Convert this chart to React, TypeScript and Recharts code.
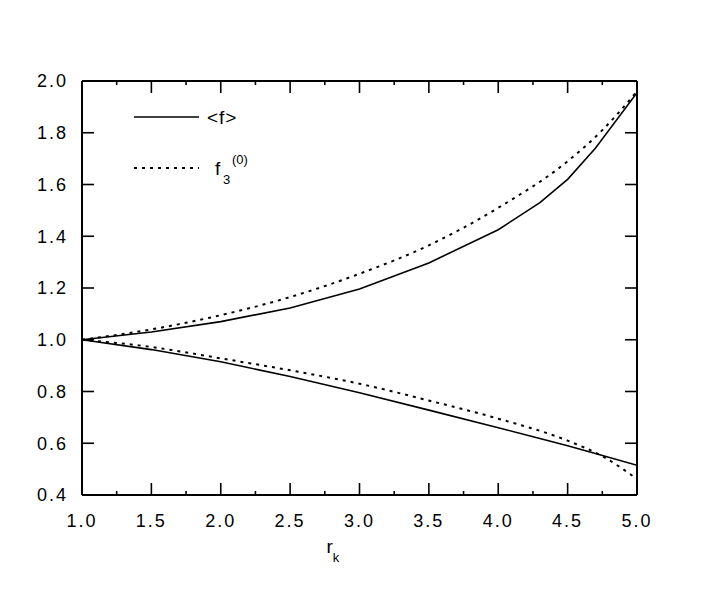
import { LineChart, Line, XAxis, YAxis, Legend } from "recharts";

// solid curves <f>
const rSolid = [1.0, 1.5, 2.0, 2.5, 3.0, 3.5, 4.0, 4.3, 4.5, 4.7, 5.0];
const fUpper = [1.0, 1.03, 1.07, 1.123, 1.196, 1.297, 1.425, 1.53, 1.62, 1.74, 1.955];
const fLower = [1.0, 0.962, 0.915, 0.858, 0.795, 0.728, 0.66, 0.618, 0.59, 0.56, 0.515];

// dotted curves f3(0)
const rDotted = [1.0, 1.5, 2.0, 2.5, 3.0, 3.5, 4.0, 4.5, 4.75, 5.0];
const f3Upper = [1.0, 1.04, 1.095, 1.165, 1.255, 1.365, 1.51, 1.69, 1.81, 1.96];
const f3Lower = [1.0, 0.972, 0.928, 0.882, 0.83, 0.765, 0.695, 0.61, 0.55, 0.462];

const xTicks = [1.0, 1.25, 1.5, 1.75, 2.0, 2.25, 2.5, 2.75, 3.0, 3.25, 3.5, 3.75, 4.0, 4.25, 4.5, 4.75, 5.0];
const yTicks = [0.4, 0.6, 0.8, 1.0, 1.2, 1.4, 1.6, 1.8, 2.0];

const FONT = '"Liberation Sans", Arial, Helvetica, sans-serif';

const toPoints = (xs: number[], ys: number[]) => xs.map((x, i) => ({ x, y: ys[i] }));

const isMajor = (v: number) => Math.abs(v * 2 - Math.round(v * 2)) < 1e-6;

const BottomTick = (props: any) => {
  const { x, y, payload } = props;
  const major = isMajor(payload.value);
  return (
    <g>
      <line x1={x} x2={x} y1={y} y2={y - (major ? 12 : 4)} stroke="#000" strokeWidth={1.6} />
      {major && (
        <text x={x} y={y + 32} textAnchor="middle" fontSize={18} letterSpacing={2} fontFamily={FONT} fill="#000">
          {payload.value.toFixed(1)}
        </text>
      )}
    </g>
  );
};

const TopTick = (props: any) => {
  const { x, y, payload } = props;
  const major = isMajor(payload.value);
  return <line x1={x} x2={x} y1={y} y2={y + (major ? 12 : 4)} stroke="#000" strokeWidth={1.6} />;
};

const LeftTick = (props: any) => {
  const { x, y, payload } = props;
  return (
    <g>
      <line x1={x} x2={x + 12} y1={y} y2={y} stroke="#000" strokeWidth={1.6} />
      <text x={x - 14} y={y} dy="0.36em" textAnchor="end" fontSize={18} letterSpacing={2} fontFamily={FONT} fill="#000">
        {payload.value.toFixed(1)}
      </text>
    </g>
  );
};

const RightTick = (props: any) => {
  const { x, y } = props;
  return <line x1={x} x2={x - 12} y1={y} y2={y} stroke="#000" strokeWidth={1.6} />;
};

const XLabel = (props: any) => {
  const vb = props.viewBox;
  const x0 = vb.x + vb.width / 2 - 33;
  return (
    <text x={x0} y={vb.y + 58} fontFamily={FONT} fill="#000">
      <tspan fontSize={19}>r</tspan>
      <tspan fontSize={13} dy={9}>k</tspan>
    </text>
  );
};

const LegendBox = () => (
  <svg width={150} height={100} style={{ overflow: "visible" }}>
    <line x1={4} x2={69} y1={22} y2={22} stroke="#000" strokeWidth={1.6} />
    <text x={77} y={29} fontSize={19} letterSpacing={1} fontFamily={FONT} fill="#000">&lt;f&gt;</text>
    <line x1={4} x2={69} y1={73} y2={73} stroke="#000" strokeWidth={2} strokeDasharray="3 5" />
    <text x={85} y={80} fontSize={19} fontFamily={FONT} fill="#000">f</text>
    <text x={93} y={89} fontSize={13} fontFamily={FONT} fill="#000">3</text>
    <text x={102} y={69} fontSize={13} fontFamily={FONT} fill="#000">(0)</text>
  </svg>
);

export default function App() {
  return (
    <div style={{ position: "absolute", left: 0, top: 0, width: 708, height: 614, background: "#fff" }}>
      <LineChart width={708} height={614} margin={{ top: 80, right: 70, bottom: 118, left: 81 }}>
        <XAxis
          type="number"
          dataKey="x"
          domain={[1, 5]}
          ticks={xTicks}
          interval={0}
          height={1}
          tickSize={0}
          tickMargin={0}
          tickLine={false}
          tick={BottomTick}
          axisLine={{ stroke: "#000", strokeWidth: 2 }}
          allowDataOverflow
          label={{ content: XLabel }}
        />
        <XAxis
          xAxisId="top"
          orientation="top"
          type="number"
          dataKey="x"
          domain={[1, 5]}
          ticks={xTicks}
          interval={0}
          height={1}
          tickSize={0}
          tickMargin={0}
          tickLine={false}
          tick={TopTick}
          axisLine={{ stroke: "#000", strokeWidth: 2 }}
          allowDataOverflow
        />
        <YAxis
          type="number"
          domain={[0.4, 2.0]}
          ticks={yTicks}
          interval={0}
          width={1}
          tickSize={0}
          tickMargin={0}
          tickLine={false}
          tick={LeftTick}
          axisLine={{ stroke: "#000", strokeWidth: 2 }}
          allowDataOverflow
        />
        <YAxis
          yAxisId="right"
          orientation="right"
          type="number"
          domain={[0.4, 2.0]}
          ticks={yTicks}
          interval={0}
          width={1}
          tickSize={0}
          tickMargin={0}
          tickLine={false}
          tick={RightTick}
          axisLine={{ stroke: "#000", strokeWidth: 2 }}
          allowDataOverflow
        />
        <Legend
          layout="horizontal"
          verticalAlign="middle"
          align="center"
          content={LegendBox}
          wrapperStyle={{ left: 130, top: 95, width: 150, height: 100 }}
        />
        <Line data={toPoints(rDotted, f3Upper)} dataKey="y" type="monotone" stroke="#000" strokeWidth={2} strokeDasharray="3 5" dot={false} isAnimationActive={false} />
        <Line data={toPoints(rDotted, f3Lower)} dataKey="y" type="monotone" stroke="#000" strokeWidth={2} strokeDasharray="3 5" dot={false} isAnimationActive={false} />
        <Line data={toPoints(rSolid, fUpper)} dataKey="y" type="linear" stroke="#000" strokeWidth={1.6} dot={false} isAnimationActive={false} />
        <Line data={toPoints(rSolid, fLower)} dataKey="y" type="linear" stroke="#000" strokeWidth={1.6} dot={false} isAnimationActive={false} />
      </LineChart>
    </div>
  );
}
